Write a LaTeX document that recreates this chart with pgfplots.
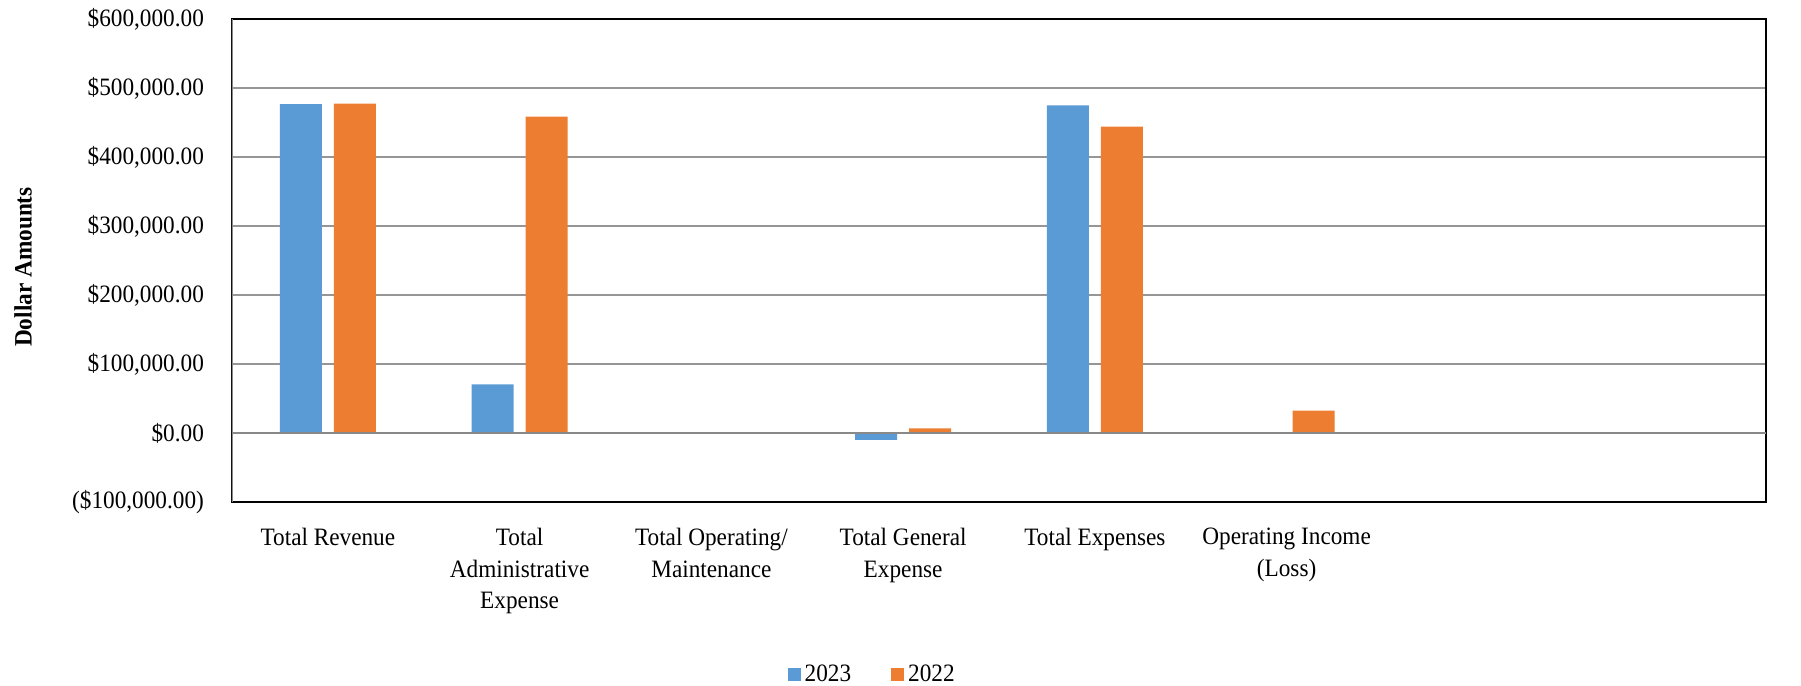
\documentclass[border=0pt]{standalone}
\usepackage{pgfplots}
\pgfplotsset{compat=1.18}
\usepackage{fontspec}
\setmainfont{Liberation Serif}[FakeStretch=0.93]
\definecolor{c23}{HTML}{5B9BD5}
\definecolor{c22}{HTML}{ED7D31}
\definecolor{gridgray}{RGB}{150,150,150}
\definecolor{zerogray}{RGB}{137,137,137}
\begin{document}
\begin{tikzpicture}
\begin{axis}[
  name=ax,
  at={(0,0)}, anchor=south west,
  scale only axis,
  width=767pt, height=241.5pt,
  xmin=-0.5, xmax=7.5,
  ymin=-100000, ymax=600000,
  ytick={-100000,0,100000,200000,300000,400000,500000,600000},
  yticklabels={{(\$100,000.00)},{\$0.00},{\$100,000.00},{\$200,000.00},{\$300,000.00},{\$400,000.00},{\$500,000.00},{\$600,000.00}},
  scaled y ticks=false,
  xtick={0,1,2,3,4,5},
  xticklabels={{Total Revenue},{Total\\Administrative\\Expense},{Total Operating/\\Maintenance},{Total General\\Expense},{Total Expenses},{Operating Income\\(Loss)}},
  x tick label style={align=center, font=\fontsize{12.5}{15.8}\selectfont, anchor=north, yshift=-9.5pt},
  y tick label style={font=\fontsize{12.5}{15.8}\selectfont, anchor=east, xshift=-10.5pt},
  major tick length=0pt,
  ymajorgrids,
  grid style={draw=gridgray, line width=0.6pt},
  axis line style={draw=black, line width=0.8pt},
  ybar, bar width=21pt,
  ylabel={Dollar Amounts},
  ylabel style={font=\fontsize{12.5}{15.8}\selectfont\bfseries, at={(axis description cs:-0.1362,0.4865)}, anchor=center},
  legend style={at={(axis description cs:0.418,-0.358)}, anchor=center, draw=none, legend columns=2, font=\fontsize{12.5}{15.8}\selectfont,
    /tikz/every even column/.append style={column sep=18pt}, inner sep=0pt},
  legend image code/.code={\fill[#1] (0pt,-3.25pt) rectangle (6.5pt,3.25pt);},
  legend cell align=left,
]
\addplot[fill=c23, draw=none, bar shift=-13.5pt] coordinates {(0,476500) (1,70500) (2,0) (3,-10000) (4,474900) (5,0)};
\addplot[fill=c22, draw=none, bar shift=13.5pt] coordinates {(0,477300) (1,458400) (2,0) (3,6800) (4,443900) (5,32300)};
\legend{2023,2022}
\draw[draw=zerogray, line width=1.2pt] (axis cs:-0.5,0) -- (axis cs:7.5,0);
\draw[draw=zerogray, line width=1pt] (rel axis cs:0,0) -- (rel axis cs:0,1);
\end{axis}
\pgfresetboundingbox
\path (current axis.south west) ++(-116pt,-92pt) rectangle ++(900.5pt,343pt);
\end{tikzpicture}
\end{document}
